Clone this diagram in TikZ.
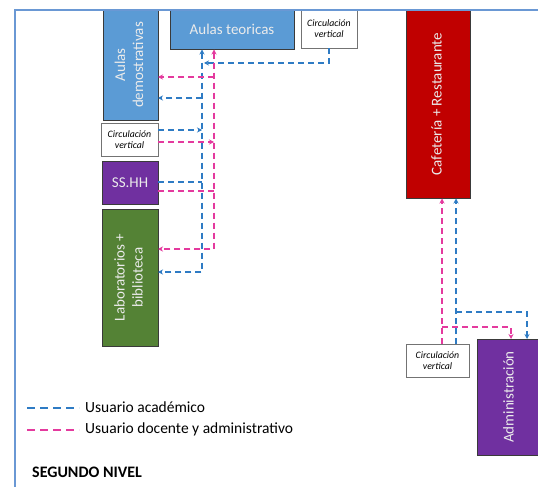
\documentclass[tikz,border=0pt]{standalone}
\usepackage{fontspec}
\setmainfont{Carlito}
\usetikzlibrary{arrows.meta}
\definecolor{boxblue}{HTML}{5B9BD5}
\definecolor{boxpurple}{HTML}{7030A0}
\definecolor{boxgreen}{HTML}{548235}
\definecolor{boxred}{HTML}{C00000}
\definecolor{framecol}{HTML}{6A98D4}
\definecolor{acad}{HTML}{2E7BC4}
\definecolor{doc}{HTML}{E43A9E}
\definecolor{edge}{HTML}{3A3A3A}
\newcommand{\vtext}[1]{\rotatebox{90}{\begin{tabular}{@{}c@{}}#1\end{tabular}}}
\begin{document}
\begin{tikzpicture}[x=1pt,y=-1pt,
  room/.style={draw=edge,line width=0.9pt,inner sep=0pt,outer sep=0pt,
    text=white!92!black,font=\fontsize{15}{18}\selectfont,align=center},
  circbox/.style={draw=black!55,fill=white,line width=0.9pt,inner sep=0pt,outer sep=0pt,
    font=\fontsize{9.8}{11}\selectfont\itshape,align=center},
  flow/.style={line width=1.6pt,dash pattern=on 6pt off 4pt},
  bl/.style={flow,draw=acad},
  pk/.style={flow,draw=doc},
  tip/.style={-{Stealth[length=5pt,width=5pt]}},
  tips/.style={{Stealth[length=5pt,width=5pt]}-{Stealth[length=5pt,width=5pt]}},
  legtext/.style={anchor=west,inner sep=0pt,font=\fontsize{15.5}{17}\selectfont}
]
\useasboundingbox (0,0) rectangle (538,487);
\fill[white] (0,0) rectangle (538,487);

% rooms
\node[room,fill=boxblue,minimum width=55,minimum height=110] (ad) at (130.5,65) {\vtext{Aulas\\demostrativas}};
\node[room,fill=boxblue,minimum width=124,minimum height=40] (at) at (232,29.5) {Aulas teoricas};
\node[circbox,minimum width=56,minimum height=39] (cvT) at (329,29) {Circulación\\vertical};
\node[circbox,minimum width=57,minimum height=33] (cvL) at (129.5,139.5) {Circulación\\vertical};
\node[room,fill=boxpurple,minimum width=56,minimum height=43] (ss) at (130,182.5) {SS.HH};
\node[room,fill=boxgreen,minimum width=56,minimum height=137] (lab) at (130,277.5) {\vtext{Laboratorios +\\biblioteca}};
\node[room,fill=boxred,minimum width=64,minimum height=189] (caf) at (438,104) {\vtext{Cafetería + Restaurante}};
\node[circbox,minimum width=63,minimum height=33] (cvR) at (437.5,360.5) {Circulación\\vertical};
\node[room,fill=boxpurple,minimum width=66,minimum height=116] (adm) at (510,397) {\vtext{Administración}};

% academic users (blue)
\draw[bl,tip] (cvT.south) |- (204,63);
\draw[bl,tips] (at.south -| 202,0) -- (202,272) -- (lab.east |- 0,272);
\draw[bl,tip] (202,98) -- (ad.east |- 0,98);
\draw[bl,tip] (cvL.east |- 0,130) -- (202,130);
\draw[bl] (ss.east |- 0,182) -- (202,182);
% teaching and administrative users (pink)
\draw[pk,tips] (at.south -| 214,0) -- (214,249) -- (lab.east |- 0,249);
\draw[pk,tip] (214,77) -- (ad.east |- 0,77);
\draw[pk,tip] (cvL.east |- 0,142) -- (214,142);
\draw[pk] (ss.east |- 0,191) -- (214,191);

% right wing
\draw[pk,tip] (cvR.north -| 442,0) -- (caf.south -| 442,0);
\draw[bl,tip] (cvR.north -| 456,0) -- (caf.south -| 456,0);
\draw[bl,tip] (456,312) -| (adm.north -| 527,0);
\draw[pk,tip] (442,327) -| (adm.north -| 511,0);

% frame
\draw[framecol,line width=1.4pt] (15,487) -- (15,10) -- (538,10);

% legend
\coordinate (la0) at (27,408);
\coordinate (la1) at (79,408);
\coordinate (lb0) at (27,430);
\coordinate (lb1) at (79,430);
\draw[bl,dash pattern=on 8pt off 5pt] (la0) -- (la1);
\draw[pk,dash pattern=on 8pt off 5pt] (lb0) -- (lb1);
\node[legtext] (lga) at (85,407) {Usuario académico};
\node[legtext] (lgb) at (85,429) {Usuario docente y administrativo};
\node[anchor=west,inner sep=0pt,font=\fontsize{16}{18}\selectfont\bfseries] (lvl) at (32,472) {SEGUNDO NIVEL};
\end{tikzpicture}
\end{document}
